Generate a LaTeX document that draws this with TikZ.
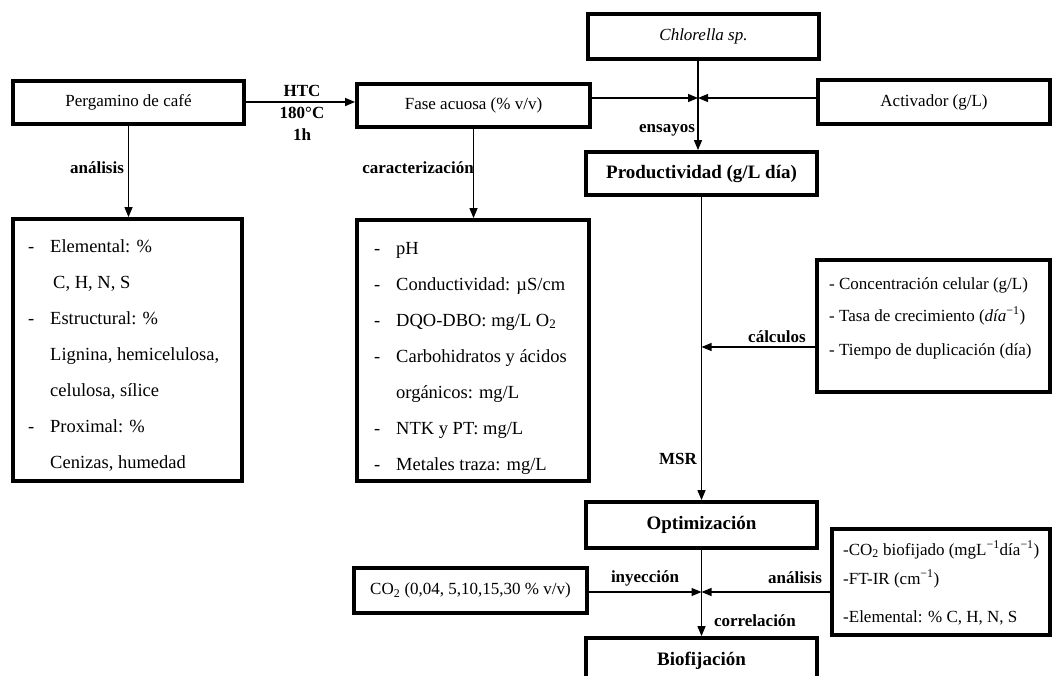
\documentclass[tikz,border=0pt]{standalone}
\usepackage{fontspec}
\setmainfont{Liberation Serif}
\usetikzlibrary{arrows.meta}
\newcommand\myfs[1]{\fontsize{#1}{#1}\selectfont}
\newcommand\supm[1]{\textsuperscript{\char"2212\relax #1}}
\begin{document}
\begin{tikzpicture}[x=1pt,y=-1pt,
  box/.style={draw, line width=3.8pt, inner sep=0pt, align=center, font=\myfs{17}},
  tbox/.style={box, font=\myfs{19}\bfseries},
  arr/.style={line width=1.2pt, -{Triangle[length=10pt,width=8pt]}},
  ln/.style={line width=1.2pt},
  lbl/.style={font=\myfs{17}\bfseries, inner sep=1pt},
  item/.style={font=\myfs{18.5}, anchor=base west, inner sep=0pt},
  citem/.style={font=\myfs{17}, anchor=base west, inner sep=0pt},
]
\useasboundingbox (0,0) rectangle (1056,676);

% boxes
\node[box, minimum width=231pt, minimum height=43pt] (perg) at (128.5,102.5) {Pergamino de café};
\node[box, minimum width=233pt, minimum height=43pt] (fase) at (473.5,105.5) {Fase acuosa (\% v/v)};
\node[box, minimum width=231pt, minimum height=45pt] (chl) at (703.5,36.5) {\itshape Chlorella sp.};
\node[box, minimum width=232pt, minimum height=44pt] (act) at (934,102) {Activador (g/L)};
\node[tbox, minimum width=231pt, minimum height=43pt] (prod) at (701.5,173.5) {Productividad (g/L día)};
\node[box, minimum width=229pt, minimum height=262pt] (list1) at (127.5,350) {};
\node[box, minimum width=232pt, minimum height=261pt] (list2) at (473,350.5) {};
\node[box, minimum width=233pt, minimum height=132pt] (calc) at (933.5,326) {};
\node[tbox, minimum width=231pt, minimum height=46pt] (opt) at (701.5,525) {Optimización};
\node[box, minimum width=233pt, minimum height=45pt] (co2) at (470.5,590.5) {CO\textsubscript{2} (0,04, 5,10,15,30 \% v/v)};
\node[box, minimum width=218pt, minimum height=106pt] (ana) at (941,582) {};
\node[tbox, minimum width=231pt, minimum height=46pt] (bio) at (701.5,661) {Biofijación};

% list 1
\node[item] (a1d) at (28,252) {-};
\node[item] (a1) at (50,252) {Elemental: \%};
\node[item] (a2) at (53,288) {C, H, N, S};
\node[item] (a3d) at (28,324) {-};
\node[item] (a3) at (50,324) {Estructural: \%};
\node[item] (a4) at (50,360) {Lignina, hemicelulosa,};
\node[item] (a5) at (50,396) {celulosa, sílice};
\node[item] (a6d) at (28,432) {-};
\node[item] (a6) at (50,432) {Proximal: \%};
\node[item] (a7) at (50,468) {Cenizas, humedad};

% list 2
\node[item] (b1d) at (374,254) {-};
\node[item] (b1) at (396,254) {pH};
\node[item] (b2d) at (374,290) {-};
\node[item] (b2) at (396,290) {Conductividad: µS/cm};
\node[item] (b3d) at (374,326) {-};
\node[item] (b3) at (396,326) {DQO-DBO: mg/L O\textsubscript{2}};
\node[item] (b4d) at (374,362) {-};
\node[item] (b4) at (396,362) {Carbohidratos y ácidos};
\node[item] (b5) at (396,398) {orgánicos: mg/L};
\node[item] (b6d) at (374,434) {-};
\node[item] (b6) at (396,434) {NTK y PT: mg/L};
\node[item] (b7d) at (374,470) {-};
\node[item] (b7) at (396,470) {Metales traza: mg/L};

% calc box text
\node[citem] (c1) at (829,289) {- Concentración celular (g/L)};
\node[citem] (c2) at (829,321) {- Tasa de crecimiento ({\itshape día}\supm{1})};
\node[citem] (c3) at (829,355) {- Tiempo de duplicación (día)};

% analysis box text
\node[citem] (d1) at (843,555) {-CO\textsubscript{2} biofijado (mgL\supm{1}día\supm{1})};
\node[citem] (d2) at (843,584) {-FT-IR (cm\supm{1})};
\node[citem] (d3) at (843,622) {-Elemental: \% C, H, N, S};

% junctions
\coordinate (J1) at (698,98);
\coordinate (J3) at (701.5,347);
\coordinate (J2) at (701.5,592);

% connectors
\draw[arr] (perg.east |- 0,102) -- (fase.west |- 0,102);
\draw[arr] (perg.south) -- (perg.south |- list1.north);
\draw[arr] (fase.south) -- (fase.south |- list2.north);
\draw[ln] (chl.south -| J1) -- (J1);
\draw[arr] (J1) -- (J1 |- prod.north);
\draw[arr] (fase.east |- J1) -- (J1);
\draw[arr] (act.west |- J1) -- (J1);
\draw[arr] (prod.south) -- (opt.north);
\draw[arr] (calc.west |- J3) -- (J3);
\draw[ln] (opt.south) -- (J2);
\draw[arr] (J2) -- (bio.north);
\draw[arr] (co2.east |- J2) -- (J2);
\draw[arr] (ana.west |- J2) -- (J2);

% labels
\node[lbl, align=center, font=\fontsize{17}{22}\selectfont\bfseries] (htc) at (302,113) {HTC\\180°C\\1h};
\node[lbl] (l1) at (97,168) {análisis};
\node[lbl] (l2) at (418,168) {caracterización};
\node[lbl] (l3) at (667,130) {ensayos};
\node[lbl] (l4) at (777,337) {cálculos};
\node[lbl] (l5) at (678,459) {MSR};
\node[lbl] (l6) at (645,578) {inyección};
\node[lbl] (l7) at (795,578) {análisis};
\node[lbl] (l8) at (755,621) {correlación};
\end{tikzpicture}
\end{document}
